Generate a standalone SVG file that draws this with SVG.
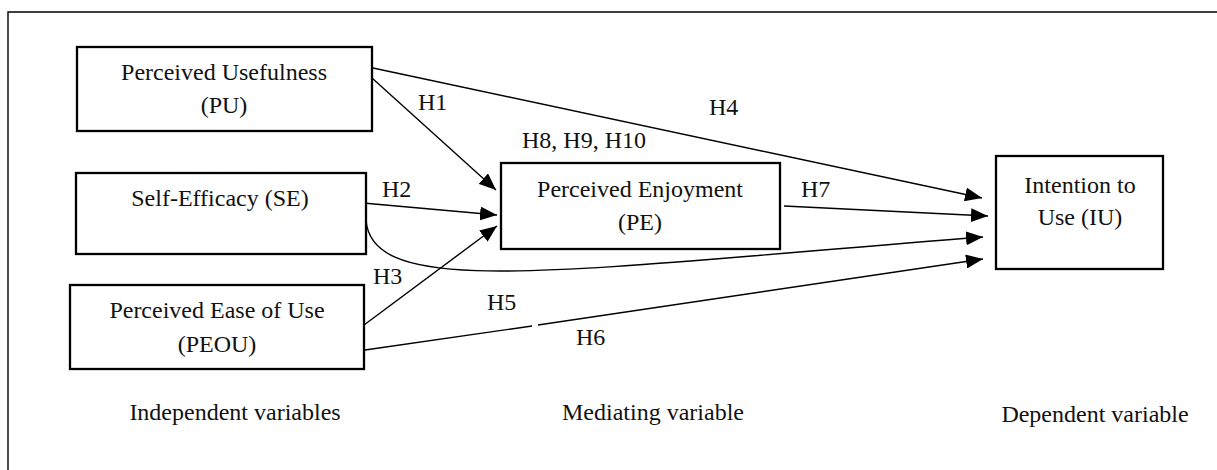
<svg xmlns="http://www.w3.org/2000/svg" width="1217" height="470" viewBox="0 0 1217 470">
<style>
.box{fill:#fff;stroke:#000;stroke-width:2.3}
.t{font-family:'Liberation Serif','Times New Roman',Times,serif;font-size:24px;fill:#111}
.c{text-anchor:middle}
.e{fill:none;stroke:#000;stroke-width:1.4}
</style>
<defs>
<marker id="ah" markerUnits="userSpaceOnUse" markerWidth="18" markerHeight="14" refX="17" refY="7" orient="auto">
<path d="M0,0 L17,7 L0,14 z" fill="#000"/>
</marker>
</defs>
<rect width="1217" height="470" fill="#fff"/>
<path d="M8,470 L8,12 L1217,12" fill="none" stroke="#000" stroke-width="1.4"/>
<g id="connectors">
<path class="e" d="M373,68 L982,198" marker-end="url(#ah)"/>
<path class="e" d="M372,78 L496,190" marker-end="url(#ah)"/>
<path class="e" d="M363,203 L497,215" marker-end="url(#ah)"/>
<path class="e" d="M364,325 L497,226" marker-end="url(#ah)"/>
<path class="e" d="M784,206 L988,216" marker-end="url(#ah)"/>
<path class="e" d="M366,220 C372,300 560,270 983,237" marker-end="url(#ah)"/>
<path class="e" d="M365,350 L532,326 M538,325 L983,259" marker-end="url(#ah)"/>
</g>
<g id="PU" font-family="Liberation Serif, serif">
<rect class="box" x="77" y="47" width="295" height="84"/>
<text class="t c" x="224" y="80">Perceived Usefulness</text>
<text class="t c" x="224" y="113">(PU)</text>
</g>
<g id="SE">
<rect class="box" x="76" y="173" width="290" height="81"/>
<text class="t c" x="220" y="206">Self-Efficacy (SE)</text>
</g>
<g id="PEOU">
<rect class="box" x="70" y="285" width="294" height="84"/>
<text class="t c" x="217" y="318">Perceived Ease of Use</text>
<text class="t c" x="217" y="352">(PEOU)</text>
</g>
<g id="PE">
<rect class="box" x="501" y="163" width="279" height="86"/>
<text class="t c" x="640" y="197">Perceived Enjoyment</text>
<text class="t c" x="640" y="230">(PE)</text>
</g>
<g id="IU">
<rect class="box" x="996" y="156" width="167" height="113"/>
<text class="t c" x="1080" y="193">Intention to</text>
<text class="t c" x="1080" y="225">Use (IU)</text>
</g>
<g id="labels">
<text class="t" x="418" y="110">H1</text>
<text class="t" x="382" y="197">H2</text>
<text class="t" x="373" y="284">H3</text>
<text class="t" x="709" y="115">H4</text>
<text class="t" x="487" y="310">H5</text>
<text class="t" x="576" y="345">H6</text>
<text class="t" x="801" y="197">H7</text>
<text class="t" x="522" y="148">H8, H9, H10</text>
<text class="t c" x="235" y="420">Independent variables</text>
<text class="t c" x="653" y="420">Mediating variable</text>
<text class="t c" x="1095" y="422">Dependent variable</text>
</g>
</svg>
